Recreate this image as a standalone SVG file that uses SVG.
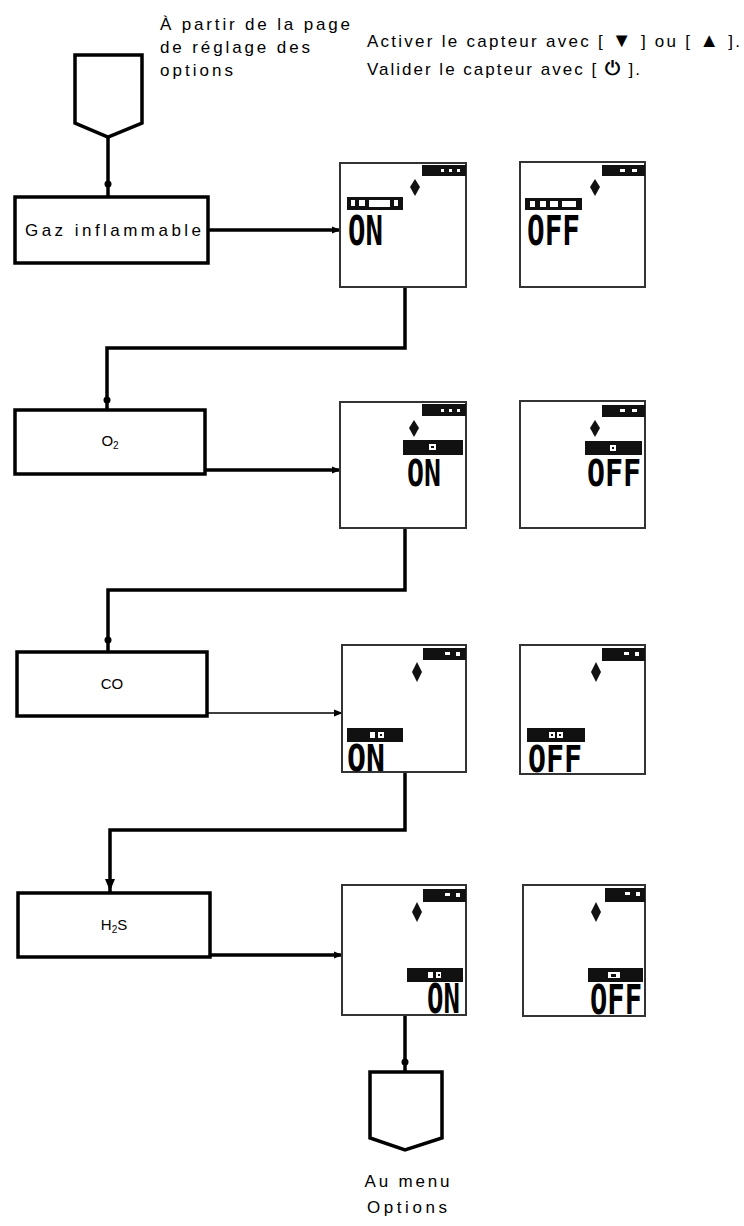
<svg xmlns="http://www.w3.org/2000/svg" width="744" height="1226" viewBox="0 0 744 1226">
<style>
.t{font-family:"Liberation Sans",Arial,sans-serif;font-size:17px;fill:#000}
.s{font-family:"Liberation Sans",Arial,sans-serif;font-size:15px;fill:#000}
.box{fill:#fff;stroke:#000;stroke-width:3.5}
.frame{fill:#fff;stroke:#333;stroke-width:2}
.blk{fill:#111}
.wht{fill:#fff}
.lcd{font-family:"DejaVu Sans Mono",monospace;font-weight:bold;fill:#000}
.ln{fill:none;stroke:#000;stroke-width:3.5}
.thin{fill:none;stroke:#000;stroke-width:1.5}
.dot{fill:#000}
</style>
<defs>
<marker id="ah" viewBox="0 0 10 10" refX="9" refY="5" markerWidth="9" markerHeight="9" markerUnits="userSpaceOnUse" orient="auto">
<path d="M0,1 L10,5 L0,9 z" fill="#000"/>
</marker>
</defs>

<g id="intro-text">
<text class="t" x="160" y="30" textLength="190" lengthAdjust="spacing">À partir de la page</text>
<text class="t" x="160" y="53" textLength="150" lengthAdjust="spacing">de réglage des</text>
<text class="t" x="160" y="76" textLength="73" lengthAdjust="spacing">options</text>
</g>
<g id="instructions">
<text class="t" x="367" y="47" textLength="373" lengthAdjust="spacing">Activer le capteur avec [ <tspan font-size="20">▼</tspan> ] ou [ <tspan font-size="20">▲</tspan> ].</text>
<text class="t" x="367" y="75" textLength="273" lengthAdjust="spacing">Valider le capteur avec [ <tspan font-size="19" font-weight="bold">⏻</tspan> ].</text>
</g>

<g id="connectors">
<path class="ln" d="M108,137 V197"/>
<circle class="dot" cx="108" cy="184" r="3.5"/>
<path class="ln" d="M208,230 H340" marker-end="url(#ah)"/>
<path class="ln" d="M405,287 V348 H107 V410"/>
<circle class="dot" cx="107" cy="400" r="3.5"/>
<path class="ln" d="M205,470 H340" marker-end="url(#ah)"/>
<path class="ln" d="M405,528 V590 H108 V652"/>
<circle class="dot" cx="108" cy="640" r="3.5"/>
<path class="thin" d="M207,713 H342" marker-end="url(#ah)"/>
<path class="ln" d="M405,773 V830 H110 V893"/>
<path d="M105,879 L115,879 L110,891 z" fill="#000"/>
<path class="ln" d="M210,955 H342" marker-end="url(#ah)"/>
<path class="ln" d="M405,1016 V1072"/>
<circle class="dot" cx="405" cy="1062" r="3.5"/>
</g>

<g id="start">
<path class="box" d="M75,55 H142 V123 L108,137 L75,123 Z"/>
</g>

<g id="node-gaz">
<rect class="box" x="15" y="197" width="193" height="66"/>
<text class="t" x="25" y="236" textLength="176" lengthAdjust="spacing">Gaz inflammable</text>
</g>
<g id="node-o2">
<rect class="box" x="15" y="410" width="190" height="64"/>
<text class="s" x="110" y="446" text-anchor="middle">O<tspan font-size="10" dy="3">2</tspan></text>
</g>
<g id="node-co">
<rect class="box" x="17" y="652" width="190" height="64"/>
<text class="s" x="112" y="689" text-anchor="middle">CO</text>
</g>
<g id="node-h2s">
<rect class="box" x="18" y="893" width="192" height="64"/>
<text class="s" x="114" y="930" text-anchor="middle">H<tspan font-size="10" dy="3">2</tspan><tspan dy="-3">S</tspan></text>
</g>

<g id="screen-gaz-on">
<rect class="frame" x="340" y="163" width="126" height="124"/>
<rect class="blk" x="422" y="165" width="44" height="11"/>
<rect class="wht" x="441" y="169" width="3" height="3"/><rect class="wht" x="449" y="169" width="3" height="3"/><rect class="wht" x="457" y="169" width="3" height="3"/>
<path class="blk" d="M415,179 L420,187 L415,196 L410,187 Z"/>
<rect class="blk" x="347" y="197" width="56" height="13"/>
<rect class="wht" x="351" y="200" width="4" height="6"/><rect class="wht" x="359" y="200" width="6" height="6"/><rect class="wht" x="369" y="200" width="21" height="7"/><rect class="wht" x="394" y="200" width="4" height="6"/>
<text class="lcd" x="348" y="245" font-size="41" textLength="35" lengthAdjust="spacingAndGlyphs">ON</text>
</g>
<g id="screen-gaz-off">
<rect class="frame" x="520" y="162" width="125" height="125"/>
<rect class="blk" x="602" y="165" width="43" height="11"/>
<rect class="wht" x="620" y="169" width="5" height="3"/><rect class="wht" x="632" y="169" width="5" height="3"/>
<path class="blk" d="M595,179 L600,187 L595,196 L590,187 Z"/>
<rect class="blk" x="525" y="198" width="57" height="12"/>
<rect class="wht" x="530" y="201" width="5" height="6"/><rect class="wht" x="540" y="201" width="6" height="6"/><rect class="wht" x="550" y="201" width="8" height="6"/><rect class="wht" x="562" y="201" width="14" height="6"/>
<text class="lcd" x="527" y="245" font-size="41" textLength="53" lengthAdjust="spacingAndGlyphs">OFF</text>
</g>

<g id="screen-o2-on">
<rect class="frame" x="340" y="402" width="126" height="126"/>
<rect class="blk" x="422" y="404" width="44" height="12"/>
<rect class="wht" x="441" y="409" width="3" height="3"/><rect class="wht" x="449" y="409" width="3" height="3"/><rect class="wht" x="457" y="409" width="3" height="3"/>
<path class="blk" d="M414,420 L419,428 L414,437 L409,428 Z"/>
<rect class="blk" x="403" y="440" width="60" height="15"/>
<rect class="wht" x="429" y="444" width="7" height="6"/>
<rect class="blk" x="431" y="446" width="3" height="2"/>
<text class="lcd" x="407" y="486" font-size="37" textLength="34" lengthAdjust="spacingAndGlyphs">ON</text>
</g>
<g id="screen-o2-off">
<rect class="frame" x="520" y="401" width="125" height="127"/>
<rect class="blk" x="602" y="405" width="43" height="12"/>
<rect class="wht" x="620" y="409" width="5" height="3"/><rect class="wht" x="632" y="409" width="5" height="3"/>
<path class="blk" d="M595,420 L600,428 L595,437 L590,428 Z"/>
<rect class="blk" x="585" y="441" width="57" height="14"/>
<rect class="wht" x="610" y="445" width="6" height="6"/>
<rect class="blk" x="612" y="447" width="2" height="2"/>
<text class="lcd" x="587" y="486" font-size="38" textLength="54" lengthAdjust="spacingAndGlyphs">OFF</text>
</g>

<g id="screen-co-on">
<rect class="frame" x="342" y="645" width="124" height="127"/>
<rect class="blk" x="423" y="648" width="43" height="12"/>
<rect class="wht" x="445" y="652" width="5" height="3"/><rect class="wht" x="456" y="652" width="4" height="4"/>
<path class="blk" d="M417,662 L422,672 L417,682 L412,672 Z"/>
<rect class="blk" x="347" y="728" width="56" height="14"/>
<rect class="wht" x="370" y="732" width="5" height="6"/><rect class="wht" x="378" y="732" width="6" height="6"/>
<rect class="blk" x="380" y="734" width="2" height="2"/>
<text class="lcd" x="347" y="771" font-size="37" textLength="38" lengthAdjust="spacingAndGlyphs">ON</text>
</g>
<g id="screen-co-off">
<rect class="frame" x="520" y="645" width="125" height="129"/>
<rect class="blk" x="602" y="648" width="43" height="13"/>
<rect class="wht" x="624" y="652" width="5" height="3"/><rect class="wht" x="635" y="652" width="4" height="4"/>
<path class="blk" d="M596,662 L601,672 L596,682 L591,672 Z"/>
<rect class="blk" x="527" y="728" width="58" height="14"/>
<rect class="wht" x="549" y="732" width="6" height="6"/><rect class="wht" x="557" y="732" width="6" height="6"/>
<rect class="blk" x="551" y="734" width="2" height="2"/><rect class="blk" x="559" y="734" width="2" height="2"/>
<text class="lcd" x="528" y="772" font-size="37" textLength="54" lengthAdjust="spacingAndGlyphs">OFF</text>
</g>

<g id="screen-h2s-on">
<rect class="frame" x="342" y="885" width="124" height="130"/>
<rect class="blk" x="423" y="889" width="43" height="13"/>
<rect class="wht" x="445" y="893" width="5" height="3"/><rect class="wht" x="456" y="893" width="4" height="4"/>
<path class="blk" d="M417,902 L422,912 L417,922 L412,912 Z"/>
<rect class="blk" x="407" y="968" width="56" height="14"/>
<rect class="wht" x="428" y="972" width="5" height="6"/><rect class="wht" x="436" y="972" width="5" height="6"/>
<rect class="blk" x="438" y="974" width="2" height="2"/>
<text class="lcd" x="427" y="1013" font-size="41" textLength="33" lengthAdjust="spacingAndGlyphs">ON</text>
</g>
<g id="screen-h2s-off">
<rect class="frame" x="523" y="885" width="122" height="131"/>
<rect class="blk" x="605" y="888" width="40" height="14"/>
<rect class="wht" x="625" y="892" width="5" height="3"/><rect class="wht" x="636" y="892" width="4" height="4"/>
<path class="blk" d="M596,902 L601,912 L596,922 L591,912 Z"/>
<rect class="blk" x="588" y="968" width="55" height="14"/>
<rect class="wht" x="608" y="972" width="12" height="6"/>
<rect class="blk" x="611" y="974" width="5" height="3"/>
<text class="lcd" x="590" y="1014" font-size="41" textLength="52" lengthAdjust="spacingAndGlyphs">OFF</text>
</g>

<g id="end">
<path class="box" d="M370,1072 H442 V1138 L405,1150 L370,1138 Z"/>
<text class="t" x="407" y="1187" text-anchor="middle" textLength="85" lengthAdjust="spacing">Au menu</text>
<text class="t" x="407" y="1213" text-anchor="middle" textLength="80" lengthAdjust="spacing">Options</text>
</g>
</svg>
